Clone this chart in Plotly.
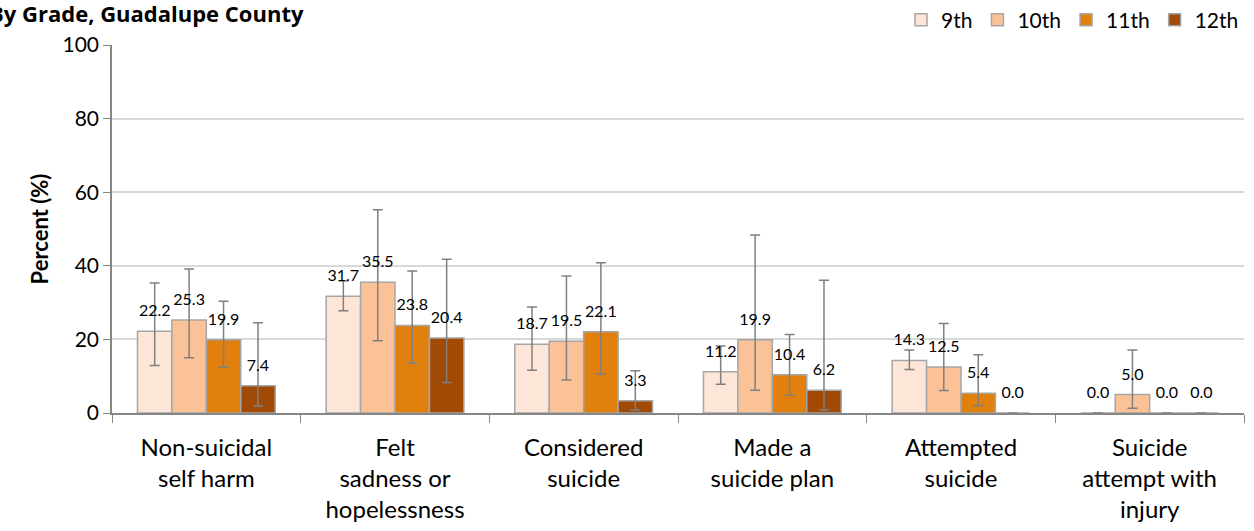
import plotly.graph_objects as go

categories = ["Non-suicidal<br>self harm", "Felt<br>sadness or<br>hopelessness", "Considered<br>suicide",
              "Made a<br>suicide plan", "Attempted<br>suicide", "Suicide<br>attempt with<br>injury"]
grades = ["9th", "10th", "11th", "12th"]

values_9th = [22.2, 31.7, 18.7, 11.2, 14.3, 0.0]
values_10th = [25.3, 35.5, 19.5, 19.9, 12.5, 5.0]
values_11th = [19.9, 23.8, 22.1, 10.4, 5.4, 0.0]
values_12th = [7.4, 20.4, 3.3, 6.2, 0.0, 0.0]

upper_9th = [35.3, 35.9, 28.8, 18.2, 17.1, None]
upper_10th = [39.1, 55.2, 37.2, 48.4, 24.3, 17.1]
upper_11th = [30.4, 38.6, 40.8, 21.3, 15.8, None]
upper_12th = [24.5, 41.8, 11.5, 36.1, None, None]

lower_9th = [12.9, 27.8, 11.6, 7.8, 11.8, None]
lower_10th = [15.0, 19.6, 9.0, 6.2, 6.1, 1.3]
lower_11th = [12.4, 13.5, 10.5, 4.8, 2.0, None]
lower_12th = [1.9, 8.3, 0.8, 0.8, None, None]

colors = ["#FDE5D7", "#FCC297", "#E2800E", "#A04A06"]

series = [
    (values_9th, upper_9th, lower_9th),
    (values_10th, upper_10th, lower_10th),
    (values_11th, upper_11th, lower_11th),
    (values_12th, upper_12th, lower_12th),
]

FONT = "Lato, 'Open Sans', sans-serif"
GAP = 0.27

fig = go.Figure()
for name, color, (vals, up, lo) in zip(grades, colors, series):
    plus = [None if u is None else round(u - v, 2) for v, u in zip(vals, up)]
    minus = [None if l is None else round(v - l, 2) for v, l in zip(vals, lo)]
    fig.add_trace(go.Bar(
        name=name, x=categories, y=vals,
        marker=dict(color=color, line=dict(color="#A6A6A6", width=1.5)),
        cliponaxis=False,
        error_y=dict(type="data", symmetric=False, array=plus, arrayminus=minus,
                     color="#808080", thickness=1.5, width=5),
    ))
for name, (vals, up, lo) in zip(grades, series):
    fig.add_trace(go.Scatter(
        name=name + " labels", x=categories, y=vals, mode="markers+text",
        marker=dict(size=16, opacity=0), showlegend=False, hoverinfo="skip",
        text=[f"{v:.1f}" for v in vals], textposition="top center",
        textfont=dict(size=16, color="#000000", family=FONT),
        cliponaxis=False,
    ))

fig.update_layout(
    width=1254, height=531,
    barmode="group", bargap=GAP, bargroupgap=0,
    scattermode="group", scattergap=GAP,
    plot_bgcolor="white", paper_bgcolor="white",
    margin=dict(l=112, r=10, t=45, b=118, autoexpand=False),
    font=dict(family=FONT, color="#000000"),
    legend=dict(orientation="h", x=1, xanchor="right", y=1.068, yanchor="middle",
                font=dict(size=21), traceorder="normal",
                bgcolor="rgba(0,0,0,0)"),
    annotations=[dict(text="<b>By Grade, Guadalupe County</b>", xref="paper", yref="paper",
                      x=-0.110, y=1.088, xanchor="left", yanchor="middle",
                      showarrow=False, font=dict(size=22, family="'Open Sans', sans-serif"))],
)
fig.update_yaxes(range=[0, 100], dtick=20, showgrid=True, gridcolor="#D9D9D9", gridwidth=1.5,
                 showline=True, linecolor="#868686", linewidth=1.5, ticks="outside",
                 ticklen=7, tickcolor="#868686", tickfont=dict(size=21),
                 title=dict(text="<b>Percent (%)</b>", font=dict(size=22), standoff=8),
                 zeroline=False)
fig.update_xaxes(showline=True, linecolor="#868686", linewidth=1.5, ticks="outside",
                 tickson="boundaries", ticklen=8, tickcolor="#868686",
                 tickfont=dict(size=24), ticklabelstandoff=12)

fig.write_html("out.html", config={"displayModeBar": False},
               post_script="document.body.style.margin='0';")
